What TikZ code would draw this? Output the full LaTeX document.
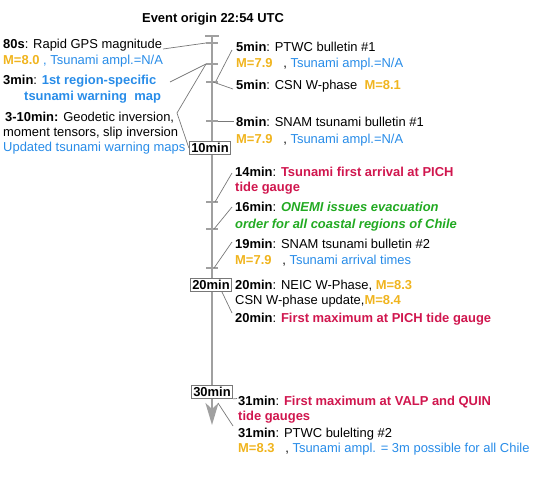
\documentclass[tikz,border=0pt]{standalone}
\usepackage{fontspec}
\setmainfont{Liberation Sans}
\usetikzlibrary{arrows.meta}
\definecolor{mgold}{RGB}{240,180,30}
\definecolor{tblue}{RGB}{40,140,232}
\definecolor{tred}{RGB}{208,22,78}
\definecolor{tgreen}{RGB}{34,170,34}
\definecolor{axgray}{RGB}{160,160,160}
\definecolor{ldgray}{RGB}{120,120,120}
\newcommand{\mg}[1]{\textcolor{mgold}{\textbf{#1}}}
\newcommand{\tb}[1]{\textcolor{tblue}{#1}}
\newcommand{\tr}[1]{\textcolor{tred}{\textbf{#1}}}
\newcommand{\tgr}[1]{\textcolor{tgreen}{\textbf{\itshape #1}}}
\tikzset{
  txt/.style={anchor=base west, inner sep=0pt, font=\fontsize{13}{15}\selectfont},
  ttl/.style={anchor=base, inner sep=0pt, font=\fontsize{13}{15}\selectfont\bfseries},
  minbox/.style={draw=ldgray, line width=0.8bp, fill=white, inner xsep=2bp, inner ysep=0pt,
     minimum height=13bp, font=\fontsize{13}{15}\selectfont\bfseries},
  axisline/.style={draw=axgray, line width=2.2bp},
  tickline/.style={draw=axgray, line width=1.1bp},
  leader/.style={draw=ldgray, line width=0.7bp}
}
\begin{document}
\begin{tikzpicture}[x=1bp,y=-1bp]
\useasboundingbox (0,0) rectangle (539,496);

% axis
\coordinate (atop) at (212,36);
\coordinate (abot) at (212,425);
\draw[axisline, -{Stealth[length=22bp,width=13bp,inset=6bp]}] (atop) -- (abot);
\coordinate (capl) at (205,36);
\coordinate (capr) at (219,36);
\draw[tickline] (capl) -- (capr);

% ticks
\foreach \n/\y in {k80/43,k3/64,k5/82,k8/121,k14/202,k16/229,k19/268}{
  \coordinate (\n l) at (206,\y);
  \coordinate (\n r) at (218,\y);
  \draw[tickline] (\n l) -- (\n r);
}

% title
\node[ttl] (title) at (213,23) {Event origin 22:54 UTC};

% left texts
\node[txt] (L1) at (3,49) {\textbf{80s}: Rapid GPS magnitude};
\node[txt] (L2) at (3,65) {\mg{M=8.0} \tb{, Tsunami ampl.=N/A}};
\node[txt] (L3) at (3,85) {\textbf{3min}: \textcolor{tblue}{\textbf{1st region-specific}}};
\node[txt] (L4) at (24,101) {\textcolor{tblue}{\textbf{tsunami warning\ \ map}}};
\node[txt] (L5) at (5,122) {\textbf{3-10min:} Geodetic inversion,};
\node[txt] (L6) at (3,137) {moment tensors, slip inversion};
\node[txt] (L7) at (3,152) {\tb{Updated tsunami warning maps}};

% right texts
\node[txt] (R1) at (236,52) {\textbf{5min}: PTWC bulletin \#1};
\node[txt] (R2) at (236,68) {\mg{M=7.9}\ \ \ , \tb{Tsunami ampl.=N/A}};
\node[txt] (R3) at (236,90) {\textbf{5min}: CSN W-phase \ \mg{M=8.1}};
\node[txt] (R4) at (236,127) {\textbf{8min}: SNAM tsunami bulletin \#1};
\node[txt] (R5) at (236,144) {\mg{M=7.9}\ \ \ , \tb{Tsunami ampl.=N/A}};
\node[txt] (R6) at (235,177) {\textbf{14min}: \tr{Tsunami first arrival at PICH}};
\node[txt] (R7) at (235,192) {\tr{tide gauge}};
\node[txt] (R8) at (235,212) {\textbf{16min}: \tgr{ONEMI issues evacuation}};
\node[txt] (R9) at (235,228) {\tgr{order for all coastal regions of Chile}};
\node[txt] (R10) at (235,248) {\textbf{19min}: SNAM tsunami bulletin \#2};
\node[txt] (R11) at (235,264) {\mg{M=7.9}\ \ \ , \tb{Tsunami arrival times}};
\node[txt] (R12) at (235,289) {\textbf{20min}: NEIC W-Phase, \mg{M=8.3}};
\node[txt] (R13) at (235,304) {CSN W-phase update,\mg{M=8.4}};
\node[txt] (R14) at (235,322) {\textbf{20min}: \tr{First maximum at PICH tide gauge}};
\node[txt] (R15) at (238,405) {\textbf{31min}: \tr{First maximum at VALP and QUIN}};
\node[txt] (R16) at (238,420) {\tr{tide gauges}};
\node[txt] (R17) at (238,437) {\textbf{31min}: PTWC bulelting \#2};
\node[txt] (R18) at (238,452) {\mg{M=8.3}\ \ \ , \tb{Tsunami ampl. = 3m possible for all Chile}};

% boxes
\node[minbox] (b10) at (210,148) {10min};
\node[minbox] (b20) at (211,285) {20min};
\node[minbox] (b30) at (212,392) {30min};

% leaders
\coordinate (e80) at (163,49);
\draw[leader] (e80) -- (k80l);
\coordinate (e3) at (170,82);
\draw[leader] (e3) -- (k3l);
\coordinate (e310) at (177,113);
\draw[leader] (k3l) -- (e310) -- (b10.west);
\coordinate (e5a) at (232,50);
\coordinate (s5a) at (216,81);
\draw[leader] (s5a) -- (e5a);
\coordinate (s5b) at (213,82);
\coordinate (e5b) at (233,89);
\draw[leader] (s5b) -- (e5b);
\coordinate (e8) at (234,121);
\draw[leader] (k8r) -- (e8);
\coordinate (s14) at (215,202);
\coordinate (e14) at (232,173);
\draw[leader] (s14) -- (e14);
\coordinate (s16) at (214,229);
\coordinate (e16) at (232,207);
\draw[leader] (s16) -- (e16);
\coordinate (s19) at (214,268);
\coordinate (e19) at (232,242);
\draw[leader] (s19) -- (e19);
\coordinate (s20) at (222,292);
\coordinate (e20) at (232,313);
\draw[leader] (s20) -- (e20);
\coordinate (e30) at (237,398.5);
\draw[leader] (b30.south east) -- (e30);
\coordinate (s31) at (218,403);
\coordinate (e31) at (233,426);
\draw[leader] (s31) -- (e31);
\end{tikzpicture}
\end{document}
